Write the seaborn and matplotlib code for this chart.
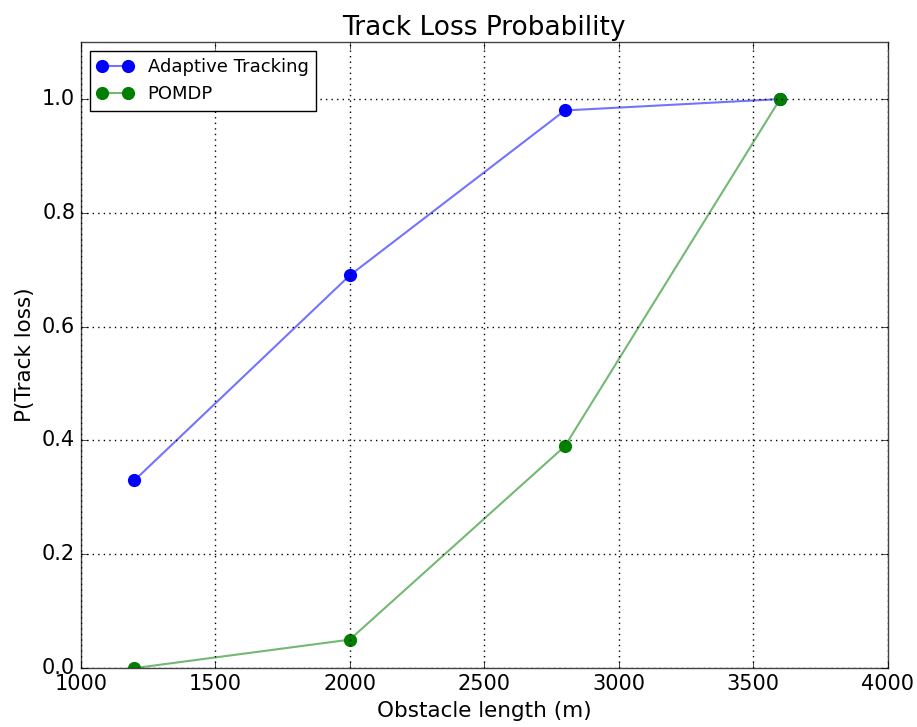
import pandas as pd
import matplotlib
matplotlib.use("Agg")
import matplotlib.pyplot as plt
import seaborn as sns

# --- datos ---
obstacle_length = [1200, 2000, 2800, 3600]
p_adaptive = [0.33, 0.69, 0.98, 1.0]
p_pomdp = [0.0, 0.05, 0.39, 1.0]
series_names = ["Adaptive Tracking", "POMDP"]
series_colors = ["#0000ff", "#007f00"]
x_ticks = [1000, 1500, 2000, 2500, 3000, 3500, 4000]
y_ticks = [0.0, 0.2, 0.4, 0.6, 0.8, 1.0]

plt.style.use("classic")
plt.rcParams["font.family"] = ["DejaVu Sans"]

df = pd.DataFrame({
    "length": obstacle_length * 2,
    "p": p_adaptive + p_pomdp,
    "serie": [series_names[0]] * 4 + [series_names[1]] * 4,
})

fig = plt.figure(figsize=(9.17, 7.27), dpi=100)
ax = fig.add_axes([0.088, 0.081, 0.880, 0.861])
sns.lineplot(data=df, x="length", y="p", hue="serie", hue_order=series_names,
             palette=series_colors, marker="o", markersize=9.5, linewidth=1.5,
             markeredgewidth=0, ax=ax, legend=False)

# linea semitransparente, marcador solido
for i, (line, c) in enumerate(zip(ax.lines, series_colors)):
    line.set_color(matplotlib.colors.to_rgba(c, 0.55))
    line.set_markerfacecolor(c)
    line.set_markeredgecolor(c)
    line.set_label(series_names[i])

ax.set_xlim(1000, 4000)
ax.set_ylim(0, 1.1)
ax.set_xticks(x_ticks)
ax.set_yticks(y_ticks)
ax.tick_params(labelsize=15, direction="in", top=True, right=True, length=5)
for s in ax.spines.values():
    s.set_edgecolor("#444444")
ax.grid(True, color="black", linestyle=":", linewidth=1.0)
ax.set_title("Track Loss Probability", fontsize=19)
ax.set_xlabel("Obstacle length (m)", fontsize=15.5)
ax.set_ylabel("P(Track loss)", fontsize=15.5)
ax.legend(handles=ax.lines[:2], labels=series_names, loc="upper left",
          numpoints=2, fontsize=13, frameon=True, fancybox=False, borderaxespad=0.5)

fig.savefig("out.png", dpi=100)
